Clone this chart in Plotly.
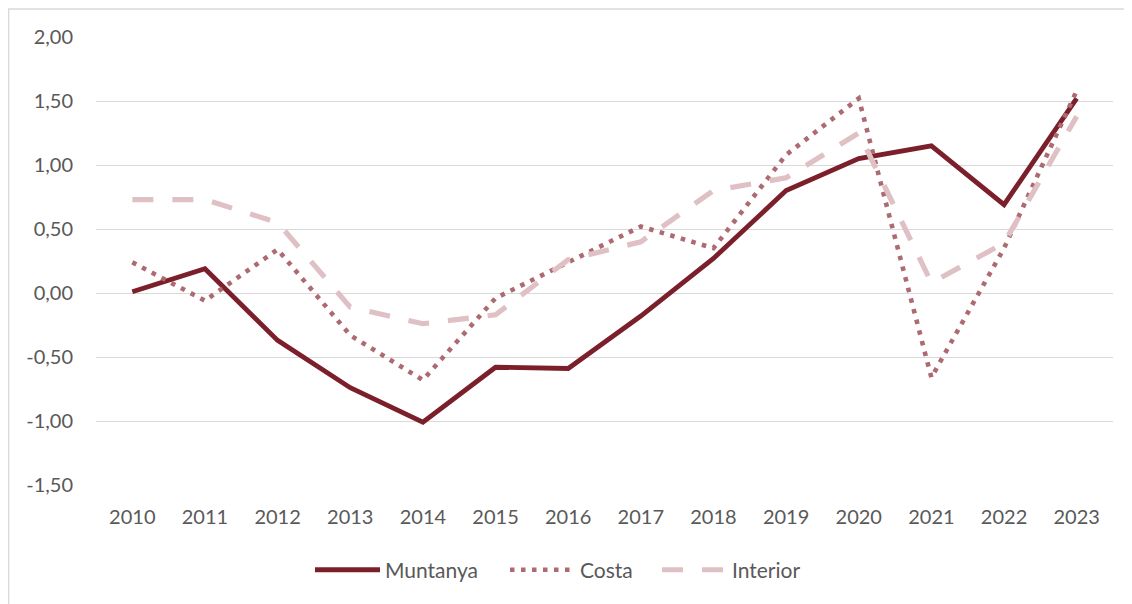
import plotly.graph_objects as go

years = [str(y) for y in range(2010, 2024)]
muntanya = [0.01, 0.19, -0.37, -0.74, -1.01, -0.58, -0.59, -0.18, 0.27, 0.80, 1.05, 1.15, 0.69, 1.52]
costa = [0.24, -0.06, 0.34, -0.33, -0.68, -0.04, 0.24, 0.52, 0.35, 1.08, 1.52, -0.66, 0.35, 1.58]
interior = [0.73, 0.73, 0.55, -0.11, -0.24, -0.17, 0.26, 0.40, 0.80, 0.90, 1.25, 0.08, 0.39, 1.38]
y_ticks = [-1.5, -1.0, -0.5, 0.0, 0.5, 1.0, 1.5, 2.0]
y_ticktext = ["-1,50", "-1,00", "-0,50", "0,00", "0,50", "1,00", "1,50", "2,00"]

FONT = "Lato"
TXT = "#595959"

fig = go.Figure()
fig.add_trace(go.Scatter(x=years, y=muntanya, name="Muntanya", mode="lines",
                         legendwidth=115,
                         line=dict(color="#7B1F2B", width=4.8)))
fig.add_trace(go.Scatter(x=years, y=costa, name="Costa", mode="lines",
                         legendwidth=72,
                         line=dict(color="#AD6B71", width=4.6, dash="4.5px,6.5px")))
fig.add_trace(go.Scatter(x=years, y=interior, name="Interior", mode="lines",
                         line=dict(color="#DFC0C4", width=5.2, dash="21px,19px")))

# page body has an 8px margin: figure is offset by 8px, so compensate
W, H = 1124, 596
L, T, R, B = 88, 29, 19, 119
PW, PH = W - L - R, H - T - B

fig.update_layout(
    width=W, height=H,
    margin=dict(l=L, r=R, t=T, b=B, autoexpand=False),
    paper_bgcolor="white", plot_bgcolor="white",
    font=dict(family=FONT, size=20, color=TXT),
    showlegend=True,
    legend=dict(orientation="h", x=(310 - 96) / PW, xanchor="left", y=-0.19, yanchor="middle",
                font=dict(family=FONT, size=21, color=TXT), itemwidth=65,
                traceorder="normal"),
    xaxis=dict(type="category", range=[-0.5, 13.5], showgrid=False, zeroline=False,
               showline=False, ticks="", tickfont=dict(size=20, color=TXT),
               ticklabelstandoff=18, automargin=False),
    yaxis=dict(range=[-1.5, 2.0], tickvals=y_ticks, ticktext=y_ticktext,
               showgrid=True, gridcolor="#D9D9D9", gridwidth=1.3, zeroline=False,
               showline=False, ticks="", tickfont=dict(size=20, color=TXT),
               ticklabelstandoff=22, automargin=False),
    shapes=[dict(type="rect", xref="paper", yref="paper",
                 x0=-(L - 0.7) / PW, x1=(W + 10 - L) / PW,
                 y0=-(B + 20) / PH, y1=(PH + T - 1) / PH,
                 line=dict(color="#D9D9D9", width=1.3), fillcolor="rgba(0,0,0,0)", layer="below")],
)

fig.write_html("out.html")
